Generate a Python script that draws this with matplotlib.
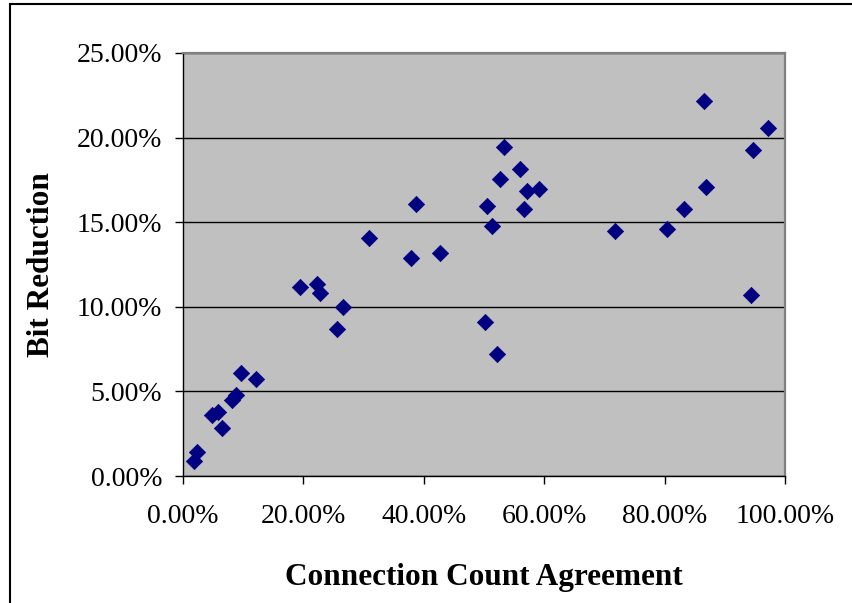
import matplotlib
matplotlib.use("Agg")
import matplotlib.pyplot as plt
from matplotlib.ticker import PercentFormatter, MultipleLocator
from matplotlib.patches import Rectangle

# values, in percent
agreement = [1.8, 2.3, 4.8, 5.8, 6.5, 8.1, 8.8, 9.6, 12.1,
             19.4, 22.3, 22.8, 26.5, 25.6, 30.9, 38.7, 37.9, 42.7,
             50.5, 51.4, 50.2, 52.2, 52.7, 53.4, 55.9, 57.1, 59.2, 56.6,
             71.8, 80.4, 83.3, 86.9, 86.6, 94.7, 97.2, 94.4]
bit_reduction = [0.89, 1.42, 3.60, 3.78, 2.84, 4.49, 4.79, 6.09, 5.73,
                 11.15, 11.33, 10.80, 9.97, 8.67, 14.05, 16.08, 12.87, 13.16,
                 15.95, 14.75, 9.08, 7.20, 17.54, 19.43, 18.13, 16.82, 16.95, 15.79,
                 14.48, 14.62, 15.80, 17.10, 22.18, 19.27, 20.59, 10.70]

plt.rcParams['font.family'] = ['Liberation Serif', 'DejaVu Serif']

fig = plt.figure(figsize=(8.53, 6.03), dpi=100)
ax = fig.add_axes([183 / 853, 127 / 603, 602 / 853, 423 / 603])

ax.set_facecolor('#c0c0c0')
ax.scatter(agreement, bit_reduction, marker='D', s=8.3 ** 2,
           color='#000080', edgecolors='#000080', linewidths=0.5, zorder=3)

ax.set_xlim(0, 100)
ax.set_ylim(0, 25)
ax.xaxis.set_major_locator(MultipleLocator(20))
ax.yaxis.set_major_locator(MultipleLocator(5))
ax.xaxis.set_major_formatter(PercentFormatter(100, decimals=2))
ax.yaxis.set_major_formatter(PercentFormatter(100, decimals=2))

ax.grid(axis='y', color='black', linewidth=1.0, zorder=1)
ax.set_axisbelow(True)

ax.tick_params(axis='both', direction='out', length=6, width=1,
               color='black', labelsize=20)
ax.tick_params(axis='x', pad=14)
ax.tick_params(axis='y', pad=9)

for side in ['top', 'right']:
    ax.spines[side].set_color('#808080')
    ax.spines[side].set_linewidth(1.6)
for side in ['left', 'bottom']:
    ax.spines[side].set_color('black')
    ax.spines[side].set_linewidth(1.0)

ax.set_xlabel('Connection Count Agreement', fontsize=22.5, fontweight='bold',
              labelpad=25)
ax.set_ylabel('Bit Reduction', fontsize=22.5, fontweight='bold', labelpad=15)

# outer chart border
fig.patches.append(Rectangle((10 / 853, -0.1), 1.0, (603 - 4) / 603 + 0.1,
                             transform=fig.transFigure, fill=False,
                             edgecolor='black', linewidth=1.5))

fig.savefig('out.png', dpi=100)
